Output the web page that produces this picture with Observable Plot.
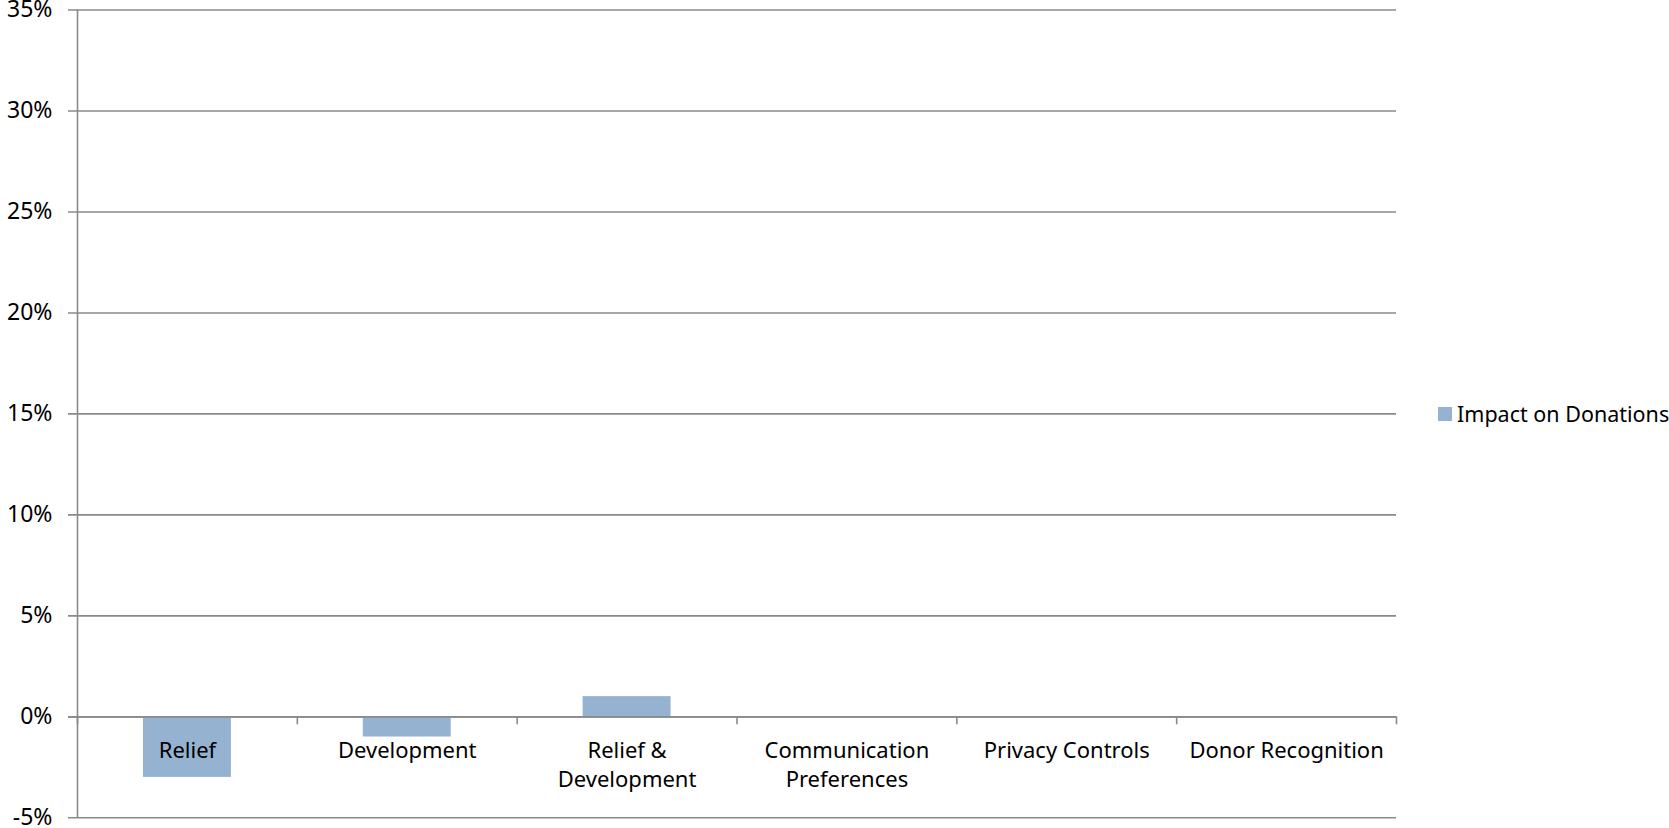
<!DOCTYPE html>
<html>
<head>
<meta charset="utf-8">
<script src="https://cdn.jsdelivr.net/npm/d3@7"></script>
<script src="https://cdn.jsdelivr.net/npm/@observablehq/plot@0.6"></script>
<style>
  html, body { margin: 0; padding: 0; background: #fff; overflow: hidden; }
  #wrap { position: relative; width: 1669px; height: 828px; font-family: "Noto Sans", sans-serif; }
  #legend { position: absolute; left: 1438px; top: 399px; display: flex; align-items: center; font-size: 21.5px; color: #000; white-space: nowrap; }
  #legend .sw { width: 14px; height: 14px; background: #95b3d1; margin-right: 5px; }
</style>
</head>
<body>
<div id="wrap"><div id="legend"><div class="sw"></div><span id="legtext"></span></div></div>
<script>
const categories = ["Relief", "Development", "Relief & Development", "Communication Preferences", "Privacy Controls", "Donor Recognition"];
const categoryLabels = ["Relief", "Development", "Relief &\nDevelopment", "Communication\nPreferences", "Privacy Controls", "Donor Recognition"];
const impactOnDonations = [-0.03, -0.01, 0.01, 0, 0, 0];
const seriesName = "Impact on Donations";
const yTicks = [-0.05, 0, 0.05, 0.10, 0.15, 0.20, 0.25, 0.30, 0.35];
const yTickLabels = ["-5%", "0%", "5%", "10%", "15%", "20%", "25%", "30%", "35%"];

const data = categories.map((c, i) => ({category: c, label: categoryLabels[i], value: impactOnDonations[i]}));

const W = 1669, H = 828, ML = 77, MR = 273, MT = 9.5, MB = 10.7;
const bw = (W - ML - MR) / categories.length;
const grid = "#8a8a8a";

const chart = Plot.plot({
  width: W, height: H,
  marginLeft: ML, marginRight: MR, marginTop: MT, marginBottom: MB,
  style: {fontFamily: "'Noto Sans', sans-serif", fontSize: "21px", color: "#000", background: "#fff", overflow: "visible"},
  x: {type: "band", domain: categories, padding: 0, round: false, axis: null},
  y: {domain: [-0.05, 0.35], axis: null},
  marks: [
    Plot.ruleY(yTicks, {stroke: grid, strokeWidth: 1.6, insetLeft: -9}),
    Plot.ruleX([categories[0]], {x: d => d, dx: -bw / 2, stroke: grid, strokeWidth: 1.6}),
    Plot.barY(data, {x: "category", y: "value", fill: "#95b3d1", insetLeft: bw * 0.3, insetRight: bw * 0.3}),
    Plot.ruleY([0], {stroke: grid, strokeWidth: 1.6, insetLeft: -9}),
    Plot.ruleX(categories, {x: d => d, y1: 0, y2: 0, dx: -bw / 2, insetBottom: -8, stroke: grid, strokeWidth: 1.6}),
    Plot.ruleX([categories[categories.length - 1]], {x: d => d, y1: 0, y2: 0, dx: bw / 2, insetBottom: -8, stroke: grid, strokeWidth: 1.6}),
    Plot.axisY(yTicks, {label: null, tickSize: 0, tickPadding: 25, tickFormat: (d) => yTickLabels[yTicks.indexOf(d)], fontSize: 23, fill: "#000"}),
    Plot.text(data, {x: "category", y: 0, text: "label", lineAnchor: "top", dy: 21, lineHeight: 1.3, fontSize: 22, fill: "#000"})
  ]
});
document.getElementById("wrap").prepend(chart);
document.getElementById("legtext").textContent = seriesName;
</script>
</body>
</html>
